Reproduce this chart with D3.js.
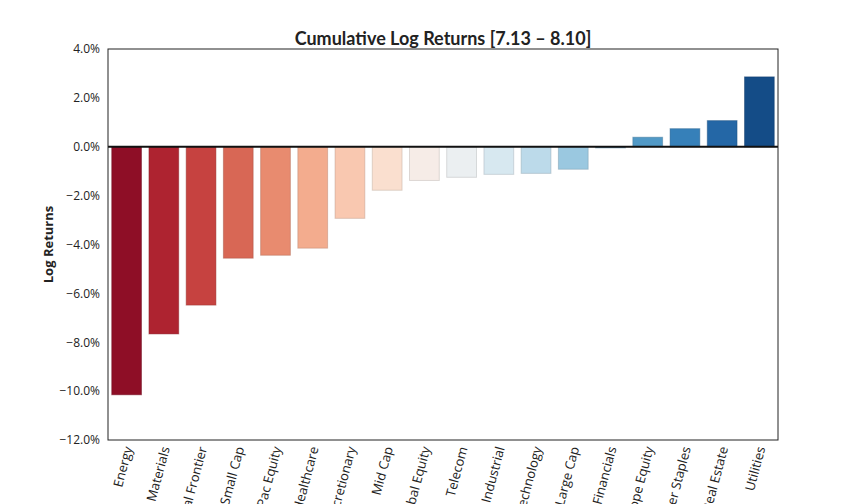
<!DOCTYPE html>
<html>
<head>
<meta charset="utf-8">
<script src="https://cdn.jsdelivr.net/npm/d3@7"></script>
<style>
  html, body { margin: 0; padding: 0; background: #fff; }
  svg { display: block; }
</style>
</head>
<body>
<svg id="chart" width="864" height="504"></svg>
<script>
const categories = ["Energy", "Materials", "Global Frontier", "Small Cap", "Asia Pac Equity", "Healthcare",
  "Consumer Discretionary", "Mid Cap", "Global Equity", "Telecom", "Industrial", "Technology",
  "Large Cap", "Financials", "Europe Equity", "Consumer Staples", "Real Estate", "Utilities"];
const values = [-10.15, -7.66, -6.48, -4.56, -4.44, -4.15, -2.93, -1.78, -1.38, -1.25, -1.13, -1.09,
  -0.92, -0.05, 0.39, 0.74, 1.07, 2.86];
const yTicks = [4, 2, 0, -2, -4, -6, -8, -10, -12];
const titleText = "Cumulative Log Returns [7.13 \u2013 8.10]";
const yLabel = "Log Returns";

const svg = d3.select("#chart");
const m = { left: 108, right: 778, top: 49, bottom: 440 };

const x = d3.scaleBand().domain(categories).range([m.left, m.right]).paddingInner(0.2).paddingOuter(0.1);
const y = d3.scaleLinear().domain([-12, 4]).range([m.bottom, m.top]);

const n = categories.length;
const color = i => d3.interpolateRdBu((i + 1) / (n + 1));

// bars
svg.append("g").selectAll("rect").data(values).join("rect")
  .attr("x", (d, i) => x(categories[i]))
  .attr("width", x.bandwidth())
  .attr("y", d => y(Math.max(0, d)))
  .attr("height", d => Math.abs(y(d) - y(0)))
  .attr("fill", (d, i) => color(i))
  .attr("stroke", (d, i) => d3.color(color(i)).darker(0.8))
  .attr("stroke-opacity", 0.45)
  .attr("stroke-width", 1);

// zero line
svg.append("line")
  .attr("x1", m.left).attr("x2", m.right)
  .attr("y1", y(0)).attr("y2", y(0))
  .attr("stroke", "#111").attr("stroke-width", 2);

// frame
svg.append("rect")
  .attr("x", m.left).attr("y", m.top)
  .attr("width", m.right - m.left).attr("height", m.bottom - m.top)
  .attr("fill", "none").attr("stroke", "#222").attr("stroke-width", 1);

// y axis
const fmt = v => (v < 0 ? "\u2212" : "") + Math.abs(v).toFixed(1) + "%";
const yAxis = d3.axisLeft(y).tickValues(yTicks).tickFormat(fmt).tickSize(0).tickPadding(8);
const yg = svg.append("g").attr("transform", `translate(${m.left},0)`).call(yAxis);
yg.select(".domain").remove();
yg.selectAll("text").attr("font-family", "Open Sans, sans-serif").attr("font-size", 12).attr("fill", "#222");

// x axis labels
const xAxis = d3.axisBottom(x).tickSize(0).tickPadding(0);
const xg = svg.append("g").attr("transform", `translate(0,${m.bottom})`).call(xAxis);
xg.select(".domain").remove();
xg.selectAll("text")
  .attr("font-family", "Open Sans, sans-serif").attr("font-size", 13).attr("fill", "#222")
  .attr("text-anchor", "end")
  .attr("x", 0).attr("y", 0).attr("dy", 0)
  .attr("transform", "translate(6,8) rotate(-75)");

// title
svg.append("text")
  .attr("x", (m.left + m.right) / 2).attr("y", 45)
  .attr("text-anchor", "middle")
  .attr("font-family", "Lato, sans-serif").attr("font-weight", 700).attr("font-size", 18)
  .attr("fill", "#222")
  .text(titleText);

// y label
svg.append("text")
  .attr("transform", `translate(53,${(m.top + m.bottom) / 2}) rotate(-90)`)
  .attr("text-anchor", "middle")
  .attr("font-family", "Open Sans, sans-serif").attr("font-weight", 700).attr("font-size", 13)
  .attr("fill", "#222")
  .text(yLabel);
</script>
</body>
</html>
